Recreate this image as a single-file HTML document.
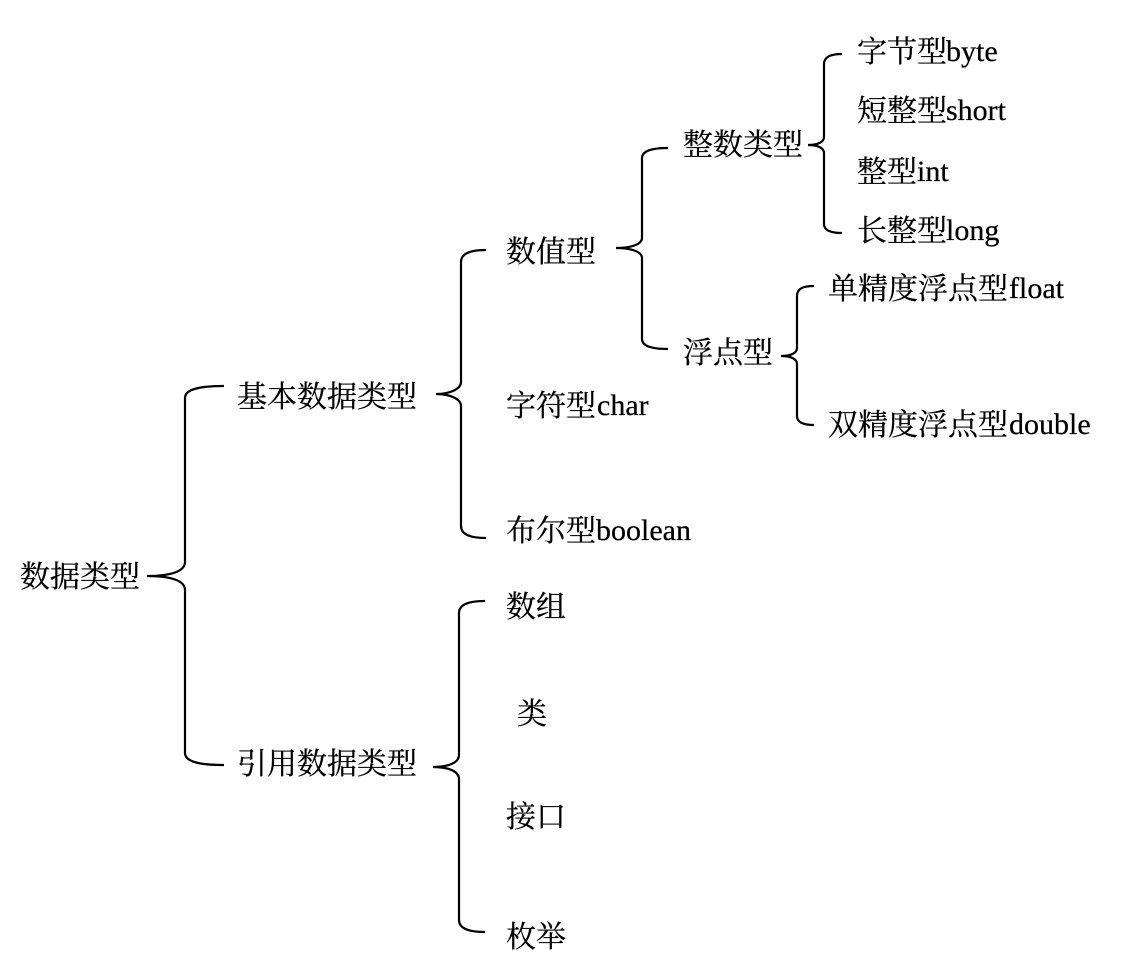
<!DOCTYPE html>
<html lang="zh">
<head>
<meta charset="utf-8">
<title>数据类型</title>
<style>
html,body{margin:0;padding:0;background:#fff;width:1123px;height:960px;overflow:hidden}
svg{display:block}
text{font-family:"Liberation Serif","Noto Serif CJK SC",serif;font-size:30px;fill:#000;stroke:#000;stroke-width:.25}
path{fill:none;stroke:#000;stroke-width:2.2}
</style>
</head>
<body>
<svg width="1123" height="960" viewBox="0 0 1123 960" xmlns="http://www.w3.org/2000/svg">
<path d="M224 386C204 386 185 388 185 398V562C185 571 172 576 147 576C172 576 185 581 185 590V753C185 763 204 765 224 765"/>
<path d="M486 250C472 250 461 253 461 262V382C461 389 450 394 436 394C450 394 461 399 461 406V526C461 535 472 538 486 538"/>
<path d="M668 148C654 148 642 150 642 158V238C642 244 632 248 616 248C632 248 642 252 642 258V339C642 347 654 349 668 349"/>
<path d="M842 54C832 54 824 56 824 64V137C824 142 818 145 808 145C818 145 824 148 824 153V224C824 231 832 233 842 233"/>
<path d="M814 286C804 286 797 288 797 296V348C797 353 791 356 781 356C791 356 797 359 797 364V416C797 423 804 425 814 425"/>
<path d="M485 601C470 601 459 604 459 613V755C459 762 450 767 433 767C450 767 459 772 459 779V920C459 929 470 932 485 932"/>

<text x="20" y="587">数据类型</text>
<text x="237" y="407">基本数据类型</text>
<text x="237" y="774">引用数据类型</text>
<text x="506" y="262">数值型</text>
<text x="506" y="416">字符型<tspan x="597" y="415">char</tspan></text>
<text x="506" y="541">布尔型<tspan x="596" y="540">boolean</tspan></text>
<text x="506" y="617">数组</text>
<text x="517" y="724">类</text>
<text x="506" y="827">接口</text>
<text x="506" y="947">枚举</text>
<text x="683" y="155">整数类型</text>
<text x="683" y="363">浮点型</text>
<text x="857" y="62">字节型<tspan x="946" y="61">byte</tspan></text>
<text x="857" y="121">短整型<tspan x="946" y="120">short</tspan></text>
<text x="857" y="182">整型<tspan x="917" y="181">int</tspan></text>
<text x="857" y="241">长整型<tspan x="946" y="240">long</tspan></text>
<text x="828" y="299">单精度浮点型<tspan x="1009" y="298">float</tspan></text>
<text x="828" y="435">双精度浮点型<tspan x="1009" y="434">double</tspan></text>
</svg>
</body>
</html>
